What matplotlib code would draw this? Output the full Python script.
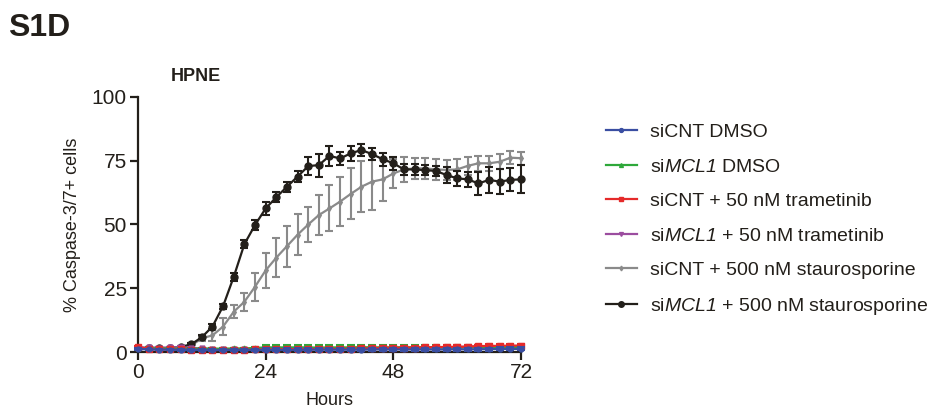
import numpy as np
import matplotlib.pyplot as plt

plt.rcParams['font.family'] = ['Liberation Sans', 'DejaVu Sans']
plt.rcParams['mathtext.fontset'] = 'custom'
plt.rcParams['mathtext.it'] = 'Liberation Sans:italic'
plt.rcParams['mathtext.rm'] = 'Liberation Sans:italic'

hours = np.arange(0, 73, 2)

# series values (% Caspase-3/7+ cells)
sicnt_dmso = [1.2, 1.0, 0.9, 0.9, 0.8, 0.8, 0.8, 0.7, 0.8, 0.8, 0.8, 0.8, 0.8, 0.8, 0.8, 0.8, 0.9, 0.9, 0.9,
              0.9, 0.9, 0.9, 1.0, 1.0, 1.0, 1.0, 1.0, 1.0, 1.0, 1.0, 1.1, 1.0, 1.1, 1.1, 1.2, 1.2, 1.2]
simcl1_dmso = [1.5, 1.5, 1.4, 1.4, 1.3, 1.3, 1.3, 1.3, 1.3, 1.4, 1.4, 1.6, 1.8, 1.8, 1.8, 1.8, 1.8, 1.7, 1.8,
               1.8, 1.8, 1.9, 1.8, 1.8, 1.8, 1.8, 1.8, 1.8, 1.8, 1.7, 1.7, 1.8, 1.7, 1.8, 1.9, 1.9, 2.0]
sicnt_tram = [2.0, 1.2, 1.0, 1.0, 1.0, 0.9, 0.8, 0.8, 0.8, 0.9, 0.9, 1.0, 1.0, 1.0, 1.1, 1.1, 1.1, 1.2, 1.2,
              1.2, 1.3, 1.4, 1.5, 1.6, 1.6, 1.7, 1.7, 1.8, 1.9, 2.0, 2.0, 2.1, 2.3, 2.4, 2.4, 2.5, 2.5]
simcl1_tram = [1.8, 1.8, 1.7, 1.8, 1.9, 1.6, 1.4, 1.2, 1.1, 1.1, 1.1, 1.1, 1.2, 1.2, 1.3, 1.3, 1.3, 1.4, 1.4,
               1.5, 1.5, 1.6, 1.6, 1.7, 1.7, 1.8, 1.8, 1.8, 1.9, 1.9, 2.0, 2.1, 2.2, 2.2, 2.3, 2.3, 2.4]
sicnt_stau = [1.5, 1.5, 1.5, 1.5, 2.0, 2.5, 5.4, 6.5, 10.0, 15.8, 19.7, 25.6, 32.0, 37.0, 41.5, 46.0, 50.0,
              53.7, 56.3, 59.0, 62.0, 64.8, 66.8, 67.7, 70.0, 71.6, 72.0, 72.0, 71.6, 71.4, 71.6, 73.0, 74.0,
              74.0, 74.6, 76.2, 76.0]
simcl1_stau = [1.5, 1.5, 1.5, 1.5, 2.0, 3.0, 5.8, 10.0, 18.0, 29.5, 42.3, 49.8, 56.3, 60.7, 64.8, 68.8, 72.9,
               73.3, 76.9, 75.9, 77.9, 79.2, 77.6, 75.6, 74.0, 71.6, 71.6, 71.3, 71.0, 69.4, 68.1, 67.7, 66.1,
               67.5, 66.8, 67.5, 67.7]

# SEM
err_low = [0.3] * 12 + [0.6] * 25
err_green = [0.3] * 12 + [0.9] * 25
err_gray = [0.3, 0.3, 0.3, 0.3, 0.3, 0.5, 1.0, 2.0, 3.3, 2.5, 3.6, 5.5, 7.0, 7.6, 8.0, 8.0, 7.0, 8.0, 9.0,
            9.5, 10.0, 10.0, 11.0, 8.5, 5.5, 5.0, 4.0, 4.0, 4.0, 4.0, 4.0, 3.5, 3.0, 3.0, 3.0, 2.5, 2.5]
err_black = [0.3, 0.3, 0.3, 0.3, 0.3, 0.5, 0.8, 1.0, 1.0, 1.5, 1.5, 2.0, 2.5, 2.0, 2.0, 2.0, 3.5, 4.5, 4.0,
             2.5, 3.0, 2.5, 2.5, 2.5, 2.5, 2.0, 2.0, 2.0, 2.0, 3.0, 3.0, 3.0, 4.5, 5.0, 5.0, 4.5, 5.5]

series = [
    ('siCNT DMSO', sicnt_dmso, err_low, '#3a4ea2', 'o', 3.5, 9),
    ('si$MCL1$ DMSO', simcl1_dmso, err_green, '#2ea83a', '^', 3.5, 7),
    ('siCNT + 50 nM trametinib', sicnt_tram, err_low, '#e52a2a', 's', 4, 8),
    ('si$MCL1$ + 50 nM trametinib', simcl1_tram, err_low, '#9b4d9f', 'v', 3.5, 6),
    ('siCNT + 500 nM staurosporine', sicnt_stau, err_gray, '#8a8a8a', 'd', 3, 4),
    ('si$MCL1$ + 500 nM staurosporine', simcl1_stau, err_black, '#231f1a', 'o', 5, 5),
]

fig = plt.figure(figsize=(9.44, 4.19), dpi=100)
ax = fig.add_axes([138 / 944, 1 - 352 / 419, 383 / 944, 255 / 419])

for label, vals, err, color, marker, ms, z in series:
    h = ax.errorbar(hours, vals, yerr=err, color=color, marker=marker, markersize=ms,
                    lw=1.6, elinewidth=1.5, capsize=3, capthick=1.5, clip_on=False,
                    zorder=z, label=label)
    for art in h.lines[2] + h.lines[1]:
        art.set_clip_on(False)

dark = '#231f1a'
ax.set_xlim(0, 72)
ax.set_ylim(0, 100)
ax.set_xticks([0, 24, 48, 72])
ax.set_yticks([0, 25, 50, 75, 100])
for s in ['top', 'right']:
    ax.spines[s].set_visible(False)
for s in ['left', 'bottom']:
    ax.spines[s].set_color(dark)
    ax.spines[s].set_linewidth(1.6)
ax.tick_params(direction='out', length=6, width=1.6, color=dark, labelsize=15, labelcolor=dark, pad=2)
ax.set_xlabel('Hours', fontsize=13, color=dark, labelpad=7)
ax.set_ylabel('% Caspase-3/7+ cells', fontsize=13, color=dark, labelpad=8)
ax.set_title('HPNE', fontsize=13, fontweight='bold', color=dark, x=0.15, y=1.03)

fig.text(8 / 944, 1 - 36 / 419, 'S1D', fontsize=23, fontweight='bold', color=dark)

leg_handles = [plt.Line2D([], [], color=c, marker=m, markersize=ms * 0.8, lw=1.6)
               for _, _, _, c, m, ms, _ in series]
fig.legend(leg_handles, [s[0] for s in series], loc='upper left',
           bbox_to_anchor=(588 / 944, 1 - 106 / 419), frameon=False, fontsize=14,
           handlelength=1.6, handletextpad=0.7, labelspacing=0.87, labelcolor=dark)

fig.savefig('out.png', dpi=100)
